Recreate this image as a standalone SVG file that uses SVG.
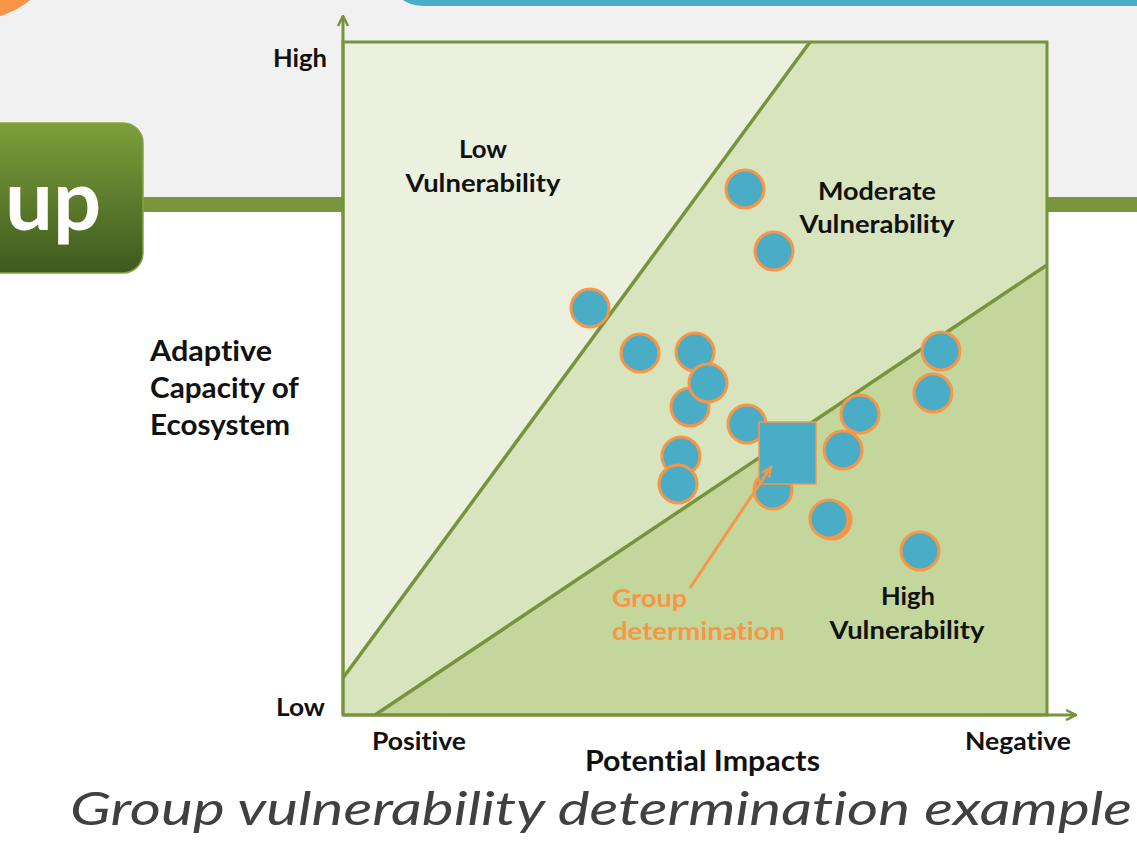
<svg xmlns="http://www.w3.org/2000/svg" width="1137" height="851" viewBox="0 0 1137 851">
<defs>
<linearGradient id="boxGrad" x1="0" y1="0" x2="0" y2="1">
<stop offset="0" stop-color="#7e9e3b"/>
<stop offset="1" stop-color="#3e5a1e"/>
</linearGradient>
<marker id="arrOpen" viewBox="0 0 12 12" refX="11" refY="6" markerWidth="12" markerHeight="12" markerUnits="userSpaceOnUse" orient="auto">
<path d="M1,1 L11,6 L1,11" fill="none" stroke="#77933c" stroke-width="2.5"/>
</marker>
<marker id="arrOrange" viewBox="0 0 12 12" refX="10" refY="6" markerWidth="13" markerHeight="13" markerUnits="userSpaceOnUse" orient="auto">
<path d="M1,2 L10,6 L1,10" fill="none" stroke="#f79646" stroke-width="2"/>
</marker>
</defs>
<style>
text{font-variant-ligatures:none}
.lbl{font-family:Lato,"Liberation Sans",sans-serif;font-weight:700;fill:#111;font-size:24px}
.big{font-size:28px}
.org{fill:#f79646}
.pt{fill:#4bacc6;stroke:#f79646;stroke-width:3}
.ln{stroke:#77933c;stroke-width:3.5;fill:none}
</style>
<rect x="0" y="0" width="1137" height="197" fill="#f1f1f1"/>
<rect x="0" y="197" width="1137" height="654" fill="#ffffff"/>
<circle cx="-30" cy="-76" r="97" fill="#f79646"/>
<rect x="393" y="-40" width="800" height="46" rx="30" fill="#4bacc6"/>
<rect x="0" y="197" width="1137" height="15" fill="#7a963c"/>
<g id="up-box">
<rect x="-30" y="123" width="173" height="150" rx="20" fill="url(#boxGrad)" stroke="#86a447" stroke-width="1.5"/>
<text x="5" y="230" font-family="Lato,'Liberation Sans',sans-serif" font-weight="700" font-size="85" fill="#ffffff">up</text>
</g>
<g id="chart">
<rect x="343" y="42" width="704" height="673" fill="#c3d69b"/>
<polygon points="343,42 1047,42 1047,265 375,715 343,715" fill="#d7e4bd"/>
<polygon points="343,42 810,42 343,678" fill="#ebf1de"/>
<line class="ln" x1="343" y1="678" x2="810" y2="42"/>
<line class="ln" x1="375" y1="715" x2="1047" y2="265"/>
<rect x="343" y="42" width="704" height="673" fill="none" stroke="#77933c" stroke-width="3"/>
</g>
<g id="axes">
<line x1="343" y1="715" x2="343" y2="16" stroke="#77933c" stroke-width="3" marker-end="url(#arrOpen)"/>
<line x1="343" y1="715" x2="1076" y2="715" stroke="#77933c" stroke-width="3" marker-end="url(#arrOpen)"/>
</g>
<g id="points">
<circle class="pt" cx="745" cy="189" r="19"/>
<circle class="pt" cx="774" cy="251" r="19"/>
<circle class="pt" cx="590" cy="308" r="19"/>
<circle class="pt" cx="640" cy="353" r="19"/>
<circle class="pt" cx="695" cy="352" r="19"/>
<circle class="pt" cx="690" cy="407" r="19"/>
<circle class="pt" cx="708" cy="383" r="19"/>
<circle class="pt" cx="747" cy="424" r="19"/>
<circle class="pt" cx="941" cy="351" r="19"/>
<circle class="pt" cx="933" cy="393" r="19"/>
<circle class="pt" cx="860" cy="414" r="19"/>
<circle class="pt" cx="843" cy="450" r="19"/>
<circle class="pt" cx="681" cy="456" r="19"/>
<circle class="pt" cx="678" cy="484" r="19"/>
<circle class="pt" cx="773" cy="490" r="19"/>
<circle class="pt" cx="832" cy="520" r="19"/>
<circle class="pt" cx="829" cy="519" r="19"/>
<circle class="pt" cx="920" cy="551" r="19"/>
</g>
<g id="group-square">
<rect x="759" y="422" width="57" height="62" fill="#4bacc6" stroke="#f79646" stroke-width="1.5"/>
</g>
<g id="connectors">
<line x1="690" y1="588" x2="771" y2="467" stroke="#f79646" stroke-width="3" marker-end="url(#arrOrange)"/>
</g>
<g id="labels">
<text class="lbl" x="273" y="67" textLength="54" lengthAdjust="spacingAndGlyphs">High</text>
<text class="lbl" x="276" y="716" textLength="49" lengthAdjust="spacingAndGlyphs">Low</text>
<text class="lbl" x="483" y="158" text-anchor="middle" textLength="48" lengthAdjust="spacingAndGlyphs">Low</text>
<text class="lbl" x="483" y="192" text-anchor="middle" textLength="155" lengthAdjust="spacingAndGlyphs">Vulnerability</text>
<text class="lbl" x="877" y="200" text-anchor="middle" textLength="118" lengthAdjust="spacingAndGlyphs">Moderate</text>
<text class="lbl" x="877" y="233" text-anchor="middle" textLength="155" lengthAdjust="spacingAndGlyphs">Vulnerability</text>
<text class="lbl" x="908" y="605" text-anchor="middle" textLength="54" lengthAdjust="spacingAndGlyphs">High</text>
<text class="lbl" x="907" y="639" text-anchor="middle" textLength="155" lengthAdjust="spacingAndGlyphs">Vulnerability</text>
<text class="lbl big" x="150" y="361" textLength="122" lengthAdjust="spacingAndGlyphs">Adaptive</text>
<text class="lbl big" x="150" y="398" textLength="149" lengthAdjust="spacingAndGlyphs">Capacity of</text>
<text class="lbl big" x="150" y="435" textLength="140" lengthAdjust="spacingAndGlyphs">Ecosystem</text>
<text class="lbl" x="372" y="750" textLength="94" lengthAdjust="spacingAndGlyphs">Positive</text>
<text class="lbl" x="965" y="750" textLength="106" lengthAdjust="spacingAndGlyphs">Negative</text>
<text class="lbl big" x="585" y="771" textLength="235" lengthAdjust="spacingAndGlyphs">Potential Impacts</text>
<text class="lbl org" x="612" y="607" textLength="75" lengthAdjust="spacingAndGlyphs">Group</text>
<text class="lbl org" x="612" y="640" textLength="173" lengthAdjust="spacingAndGlyphs">determination</text>
</g>
<text id="caption" x="70" y="825" font-family="Lato,'Open Sans','Liberation Sans',sans-serif" font-style="italic" font-size="46" fill="#404040" textLength="1062" lengthAdjust="spacingAndGlyphs">Group vulnerability determination example</text>
</svg>
